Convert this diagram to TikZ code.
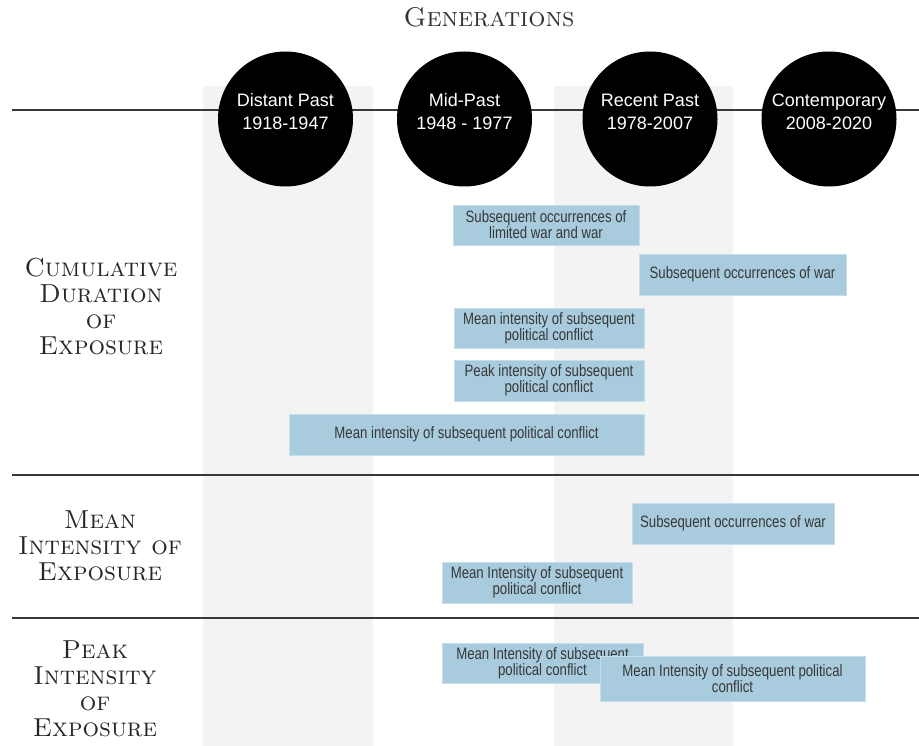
\documentclass[tikz,border=0pt]{standalone}
\usepackage{fontspec}
\usepackage{xcolor}
\usepackage{tikz}
\usetikzlibrary{positioning}
\newfontfamily\circfont{Liberation Sans}
\newfontfamily\condfont[FakeStretch=0.8]{Liberation Sans}
\definecolor{bandgray}{HTML}{F3F3F3}
\definecolor{rulegray}{HTML}{383838}
\definecolor{boxblue}{HTML}{A8CBDD}
\definecolor{boxedge}{HTML}{C6DDEA}
\definecolor{boxtext}{HTML}{383838}
\tikzset{
  band/.style      = {draw=none, fill=bandgray},
  rowrule/.style   = {draw=rulegray, line width=2.6pt},
  gencircle/.style = {circle, fill=black, draw=none, minimum size=135pt, inner sep=0pt},
  gentext/.style   = {font=\circfont\fontsize{18}{23}\selectfont, text=white, align=center, inner sep=0pt},
  heading/.style   = {font=\fontsize{27}{30}\selectfont\scshape, text=black!80, inner sep=0pt},
  rowlbl/.style    = {font=\fontsize{26}{26}\selectfont\scshape, text=black!85, align=center, inner sep=0pt},
  infobox/.style   = {fill=boxblue, draw=boxedge, line width=0.8pt, inner sep=0pt,
                      font=\condfont\fontsize{16.5}{16}\selectfont, text=boxtext, align=center},
}

\begin{document}
\begin{tikzpicture}[x=1pt,y=-1pt]
  \useasboundingbox (0,0) rectangle (919,746);

  % generation bands
  \fill[band] (203,86) rectangle (373,746);
  \fill[band] (554,86) rectangle (733,746);

  % row separators
  \foreach \y in {110,475,618} {
    \draw[rowrule] (12,\y) -- (919,\y);
  }

  % title
  \node[heading] (title) at (489,17) {Generations};

  % ---------- generations ----------
  \foreach \n/\cx/\t in {%
    distant/285.5/{Distant Past\\1918-1947},
    mid/464.5/{Mid-Past\\1948 - 1977},
    recent/650/{Recent Past\\1978-2007},
    contemp/829/{Contemporary\\2008-2020}}
  {
    \node[gencircle] (\n) at (\cx,119) {};
    \node[gentext] (\n-txt) at (\cx,111.5) {\t};
  }

  % ---------- row labels ----------
  \node[rowlbl] (cumul) at (101,307) {Cumulative\\Duration\\of\\Exposure};
  \node[rowlbl] (meanint) at (100,545.5) {Mean\\Intensity of\\Exposure};
  \node[rowlbl] (peakint) at (95,689) {Peak\\Intensity\\of\\Exposure};

  % ---------- findings ----------
  \foreach \n/\xa/\xb/\ya/\yb/\t in {%
    cd1/453/639/205/245/{Subsequent occurrences of\\limited war and war},
    cd2/639/846/254/295/{Subsequent occurrences of war},
    cd3/454/644/308/348/{Mean intensity of subsequent\\political conflict},
    cd4/454/644/360/401/{Peak intensity of subsequent\\political conflict},
    cd5/289/644/414/455/{Mean intensity of subsequent political conflict},
    mi1/632/834/503/544/{Subsequent occurrences of war},
    mi2/442/632/562/603/{Mean Intensity of subsequent\\political conflict},
    pi1/442/643/643/683/{Mean Intensity of subsequent\\political conflict},
    pi2/600/865/656/701/{Mean Intensity of subsequent political\\conflict}}
  {
    \node[infobox, minimum width={(\xb-\xa)*1pt}, minimum height={(\yb-\ya)*1pt}]
      (\n) at ({(\xa+\xb)/2},{(\ya+\yb)/2}) {\t};
  }
\end{tikzpicture}
\end{document}
